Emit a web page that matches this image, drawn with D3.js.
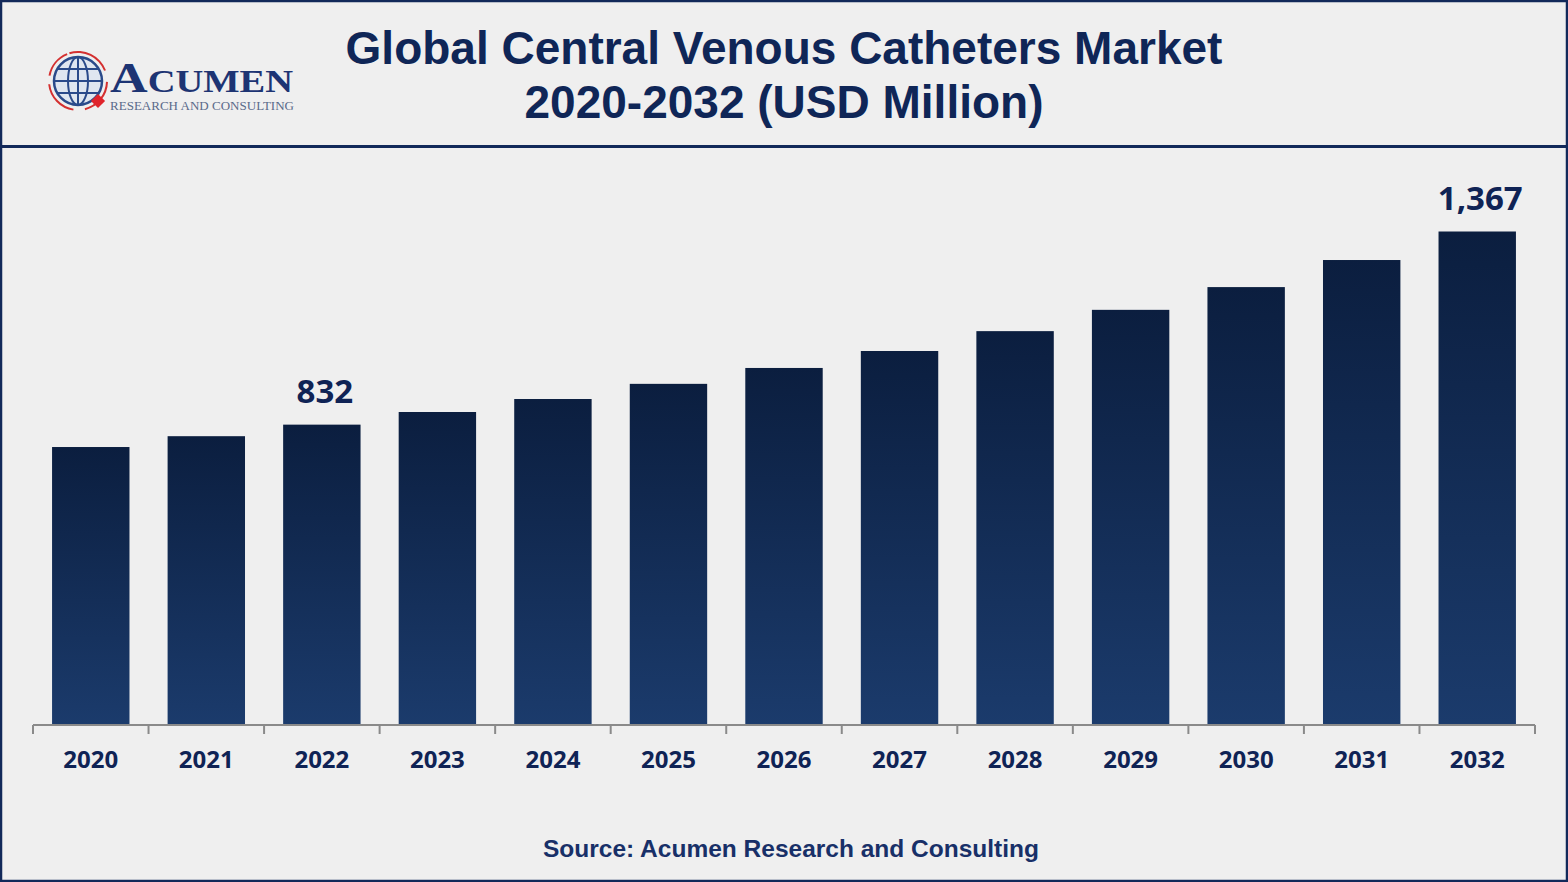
<!DOCTYPE html>
<html><head><meta charset="utf-8">
<script src="https://cdn.jsdelivr.net/npm/d3@7"></script>
<style>html,body{margin:0;padding:0;background:#efefef;}svg{display:block;}</style>
</head><body><svg id="c" width="1568" height="882"></svg>
<script>
const years = ["2020","2021","2022","2023","2024","2025","2026","2027","2028","2029","2030","2031","2032"];
const values = [770, 800, 832, 867, 903, 945, 989, 1036, 1091, 1150, 1213, 1288, 1367];
const labelled = {"2022":"832","2032":"1,367"};
const titleLines = ["Global Central Venous Catheters Market","2020-2032 (USD Million)"];
const sourceText = "Source: Acumen Research and Consulting";

const svg = d3.select("#c");
const W = 1568, H = 882;
const navy = "#0f2657";
svg.append("rect").attr("width",W).attr("height",H).attr("fill","#efefef");

const defs = svg.append("defs");
const g = defs.append("linearGradient").attr("id","bg").attr("x1",0).attr("y1",0).attr("x2",0).attr("y2",1);
g.append("stop").attr("offset","0%").attr("stop-color","#0b1e3f");
g.append("stop").attr("offset","100%").attr("stop-color","#1b3b6c");

// header divider
svg.append("line").attr("x1",0).attr("x2",W).attr("y1",146.5).attr("y2",146.5).attr("stroke","#12295a").attr("stroke-width",3);
// outer border
svg.append("rect").attr("x",1).attr("y",1).attr("width",W-2).attr("height",H-2).attr("fill","none").attr("stroke","#12295a").attr("stroke-width",2.5);

// title
svg.append("text").attr("x",784).attr("y",64).attr("text-anchor","middle")
  .attr("font-family","Liberation Sans, Arial, sans-serif").attr("font-weight","bold").attr("font-size",46).attr("fill",navy).text(titleLines[0]);
svg.append("text").attr("x",784).attr("y",118).attr("text-anchor","middle")
  .attr("font-family","Liberation Sans, Arial, sans-serif").attr("font-weight","bold").attr("font-size",46).attr("fill",navy).text(titleLines[1]);

// logo
const logo = svg.append("g");
const cx = 78, cy = 81, r = 24;
logo.append("circle").attr("cx",cx).attr("cy",cy).attr("r",r).attr("fill","#dfe6f0").attr("stroke","#2a4a8a").attr("stroke-width",2.5);
[-12,0,12].forEach(d=>{
  logo.append("line").attr("x1",cx-Math.sqrt(r*r-d*d)).attr("x2",cx+Math.sqrt(r*r-d*d)).attr("y1",cy+d).attr("y2",cy+d).attr("stroke","#2a4a8a").attr("stroke-width",2);
});
logo.append("ellipse").attr("cx",cx).attr("cy",cy).attr("rx",10).attr("ry",r).attr("fill","none").attr("stroke","#2a4a8a").attr("stroke-width",2);
logo.append("line").attr("x1",cx).attr("x2",cx).attr("y1",cy-r).attr("y2",cy+r).attr("stroke","#2a4a8a").attr("stroke-width",2);
const arc = d3.arc().innerRadius(r+4).outerRadius(r+6);
[[-0.3,1.2],[1.6,2.9],[3.3,4.6],[4.9,5.9]].forEach(a=>{
  logo.append("path").attr("transform",`translate(${cx},${cy})`).attr("d",arc({startAngle:a[0],endAngle:a[1]})).attr("fill","#d43030");
});
logo.append("rect").attr("x",93).attr("y",96).attr("width",10).attr("height",10).attr("transform","rotate(45 98 101)").attr("fill","#e0242b");
const brand = logo.append("text").attr("x",110).attr("y",92).attr("font-family","Liberation Serif, Times New Roman, serif").attr("font-weight","bold").attr("fill","#1d3473")
  .attr("textLength",183).attr("lengthAdjust","spacingAndGlyphs");
brand.append("tspan").attr("font-size",42).text("A");
brand.append("tspan").attr("font-size",31).text("CUMEN");
logo.append("text").attr("x",110).attr("y",110).attr("font-family","Liberation Serif, Times New Roman, serif").attr("font-size",11.5).attr("fill","#5a6a8a").attr("textLength",184).attr("lengthAdjust","spacingAndGlyphs").text("RESEARCH AND CONSULTING");

// chart
const x = d3.scaleBand().domain(years).range([33,1535]).paddingInner(0.33).paddingOuter(0.165);
const y = d3.scaleLinear().domain([0,1367]).range([725,231.5]);

svg.append("g").selectAll("rect").data(years).join("rect")
  .attr("x",d=>x(d)).attr("width",x.bandwidth())
  .attr("y",(d,i)=>y(values[i])).attr("height",(d,i)=>y(0)-y(values[i]))
  .attr("fill","url(#bg)");

const axis = d3.axisBottom(x).tickSize(0).tickPadding(26);
const ax = svg.append("g").attr("transform","translate(0,725)").call(axis);
ax.select(".domain").attr("stroke","#8a8a8a").attr("stroke-width",2).attr("d","M33,0H1535");
ax.selectAll("text").attr("font-family","Open Sans, Lato, sans-serif").attr("font-weight","bold").attr("font-size",24).attr("fill","#0f2355").attr("dy","0.71em");
const step = x.step();
const bounds = d3.range(years.length+1).map(i=>33+i*step);
svg.append("g").selectAll("line").data(bounds).join("line")
  .attr("x1",d=>d).attr("x2",d=>d).attr("y1",725).attr("y2",734).attr("stroke","#8a8a8a").attr("stroke-width",2);

// value labels
svg.append("g").selectAll("text").data(years.filter(d=>labelled[d])).join("text")
  .attr("x",d=>x(d)+x.bandwidth()/2+3).attr("y",d=>y(values[years.indexOf(d)])-22)
  .attr("text-anchor","middle").attr("font-family","Open Sans, Lato, sans-serif").attr("font-weight","bold").attr("font-size",33).attr("fill","#0f2355")
  .text(d=>labelled[d]);

svg.append("text").attr("x",791).attr("y",857).attr("text-anchor","middle")
  .attr("font-family","Liberation Sans, Arial, sans-serif").attr("font-weight","bold").attr("font-size",24.5).attr("fill","#183068").text(sourceText);
</script></body></html>
